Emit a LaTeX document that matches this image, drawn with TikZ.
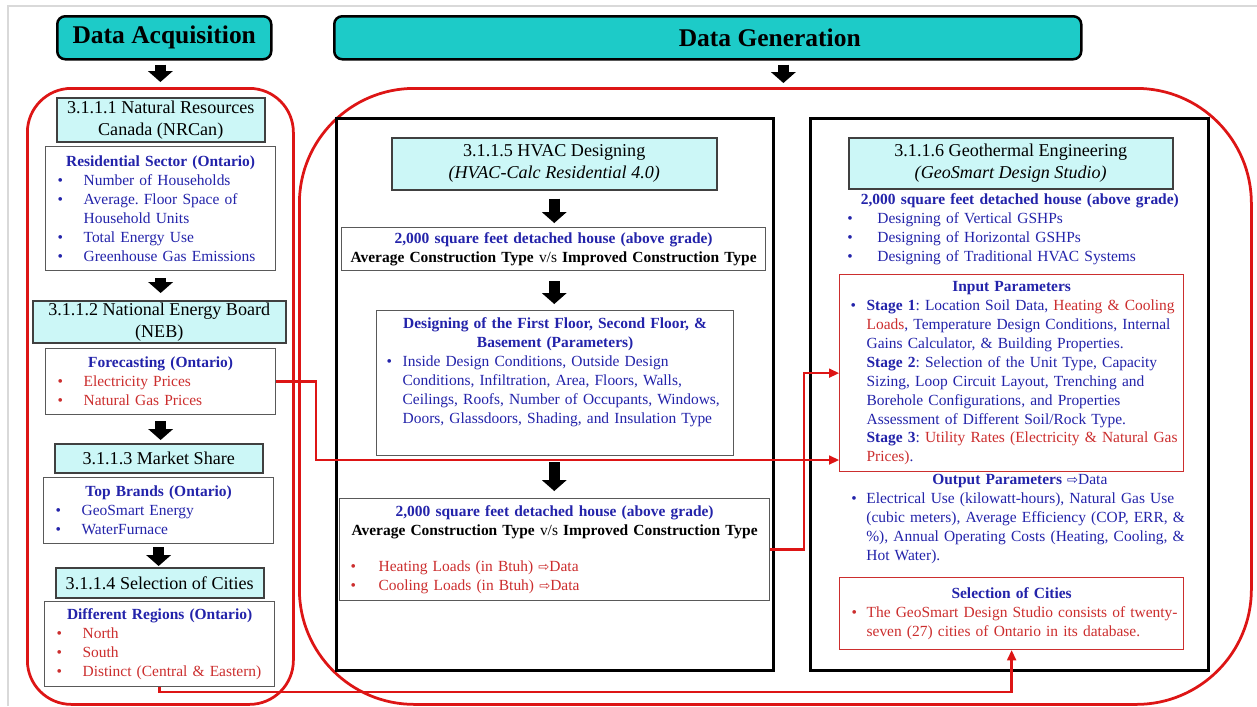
\documentclass[tikz,border=0pt]{standalone}
\usepackage{fontspec}
\setmainfont{Liberation Serif}
\newfontfamily\arrowfont{DejaVu Sans}
\usetikzlibrary{arrows.meta,calc}

\definecolor{hdrteal}{HTML}{1DCBC8}
\definecolor{titlecyan}{HTML}{CCF7F7}
\definecolor{txtblue}{HTML}{2323AA}
\definecolor{txtred}{HTML}{CC2E2E}
\definecolor{linkred}{HTML}{DD1515}

% bullet geometry, reset inside a node where needed
\newdimen\bulletoff \bulletoff=2.2mm
\newdimen\bulletgap \bulletgap=5.2mm
\newcommand{\bitem}[2][txtblue]{\par\hangindent=\dimexpr\bulletoff+\bulletgap\relax\hangafter=1
  \noindent{\color{#1}\hspace*{\bulletoff}\makebox[\bulletgap][l]{\textbullet}#2}\par}
\newcommand{\boxhead}[2][txtblue]{{\centering\noindent\color{#1}\bfseries #2\par}}
\newcommand{\toData}{{\arrowfont\fontsize{7.5}{10.8}\selectfont\char"21E8}}

\tikzset{
    main header/.style={draw=black, line width=0.5mm, fill=hdrteal, rounded corners=1.6mm,
        anchor=north west, inner sep=0pt, font=\fontsize{14.5}{17}\selectfont\bfseries},
    stage frame/.style={draw=linkred, line width=0.55mm, anchor=north west, inner sep=0pt},
    panel/.style={draw=black, line width=0.55mm, anchor=north west, inner sep=0pt},
    stage title/.style={draw=black!75, line width=0.3mm, fill=titlecyan, anchor=north west,
        inner sep=0pt, align=center, font=\fontsize{10.3}{12.5}\selectfont},
    info box/.style={draw=black!65, line width=0.25mm, fill=white, anchor=north west,
        inner xsep=0.2mm, inner ysep=0pt, align=left, text=txtblue,
        font=\fontsize{8.8}{10.8}\selectfont},
    red box/.style={info box, draw=txtred},
    info text/.style={anchor=north west, inner sep=0pt, align=left, text=txtblue,
        font=\fontsize{8.8}{10.8}\selectfont},
    block arrow/.style={line width=2.2mm, -{Triangle[width=5mm,length=2.2mm,line width=0pt]}},
    data link/.style={draw=linkred, line width=0.5mm,
        -{Triangle[width=1.9mm,length=2mm,line width=0pt]}}
}

\begin{document}
\frenchspacing
\begin{tikzpicture}[x=0.2mm, y=-0.2mm]
\useasboundingbox (0,0) rectangle (1257,706);
\draw[black!15, line width=0.3mm] (8,706) -- (8,6) -- (1257,6);

% headers and frames
\node[main header, minimum width=42.8mm, minimum height=8.6mm] (hdrAcq) at (56,15) {Data Acquisition};
\node[main header, minimum width=149.4mm, minimum height=8.6mm] (hdrGen) at (333,15) {\hspace*{24.8mm}Data Generation};
\node[stage frame, rounded corners=8.8mm, minimum width=53.2mm, minimum height=123.2mm] (acqFrame) at (26,87) {};
\node[stage frame, rounded corners=23mm, minimum width=190.4mm, minimum height=123.2mm] (genFrame) at (298,87) {};
\node[panel, minimum width=87.4mm, minimum height=110.4mm] (hvacPanel) at (335,117) {};
\node[panel, minimum width=79.6mm, minimum height=110.4mm] (geoPanel) at (809,117) {};

% data acquisition column
\node[stage title, minimum width=41.6mm, minimum height=8.8mm] (nrcan) at (56,97) {3.1.1.1 Natural Resources\\Canada (NRCan)};
\node[info box, text width=45.6mm, minimum height=24.8mm] (resid) at (45,146) {%
  \boxhead{Residential Sector (Ontario)}
  \bitem{Number of Households}
  \bitem{Average. Floor Space of\newline Household Units}
  \bitem{Total Energy Use}
  \bitem{Greenhouse Gas Emissions}};
\node[stage title, minimum width=50.6mm, minimum height=8.4mm] (neb) at (32,300) {3.1.1.2 National Energy Board\\(NEB)};
\node[info box, text width=45.6mm, minimum height=13.2mm] (fcast) at (45,348) {%
  \boxhead{Forecasting (Ontario)}
  \bitem[txtred]{Electricity Prices}
  \bitem[txtred]{Natural Gas Prices}};
\node[stage title, minimum width=41.6mm, minimum height=5.8mm] (mkt) at (54,443) {3.1.1.3 Market Share};
\node[info box, text width=45.6mm, minimum height=13.2mm] (brands) at (43,477) {%
  \boxhead{Top Brands (Ontario)}
  \bitem{GeoSmart Energy}
  \bitem{WaterFurnace}};
\node[stage title, minimum width=41.6mm, minimum height=6mm] (cities) at (55,567) {3.1.1.4 Selection of Cities};
\node[info box, text width=45.6mm, minimum height=17mm] (regions) at (44,601) {%
  \boxhead{Different Regions (Ontario)}
  \bitem[txtred]{North}
  \bitem[txtred]{South}
  \bitem[txtred]{Distinct (Central \& Eastern)}};

% HVAC designing panel
\node[stage title, minimum width=65mm, minimum height=10.4mm] (hvacTitle) at (391,137) {3.1.1.5 HVAC Designing\\\textit{(HVAC-Calc Residential 4.0)}};
\node[info box, text width=84.4mm, minimum height=8.6mm] (house1) at (341,227) {%
  \boxhead{2,000 square feet detached house (above grade)}
  \boxhead[black]{Average Construction Type \textmd{v/s} Improved Construction Type}};
\node[info box, text width=71mm, minimum height=29mm] (floors) at (376,310) {%
  \bulletoff=1.8mm \bulletgap=3.2mm
  \boxhead{Designing of the First Floor, Second Floor, \&\\Basement (Parameters)}
  \bitem{Inside Design Conditions, Outside Design\newline Conditions, Infiltration, Area, Floors, Walls,\newline
    Ceilings, Roofs, Number of Occupants, Windows,\newline Doors, Glassdoors, Shading, and Insulation Type}
  \vspace*{4.4mm}};
\node[info box, text width=85.6mm, minimum height=20.4mm] (house2) at (339,498) {%
  \bulletoff=2mm \bulletgap=5.6mm
  \boxhead{2,000 square feet detached house (above grade)}
  \boxhead[black]{Average Construction Type \textmd{v/s} Improved Construction Type}
  \vspace{3.4mm}
  \bitem[txtred]{Heating Loads (in Btuh) \toData Data}
  \bitem[txtred]{Cooling Loads (in Btuh) \toData Data}};

% geothermal engineering panel
\node[stage title, minimum width=64.8mm, minimum height=10.2mm] (geoTitle) at (848,137) {3.1.1.6 Geothermal Engineering\\\textit{(GeoSmart Design Studio)}};
\node[info text, text width=71mm] (geoSpec) at (842,193) {%
  \bulletoff=1mm \bulletgap=6mm
  \boxhead{2,000 square feet detached house (above grade)}
  \bitem{Designing of Vertical GSHPs}
  \bitem{Designing of Horizontal GSHPs}
  \bitem{Designing of Traditional HVAC Systems}};
\node[red box, text width=68.4mm, minimum height=39.4mm] (inputBox) at (839,274) {%
  \bulletoff=2mm \bulletgap=3.2mm
  \boxhead{Input Parameters}
  \bitem{\textbf{Stage 1}: Location Soil Data, {\color{txtred}Heating \& Cooling\newline Loads}, Temperature Design Conditions, Internal\newline
    Gains Calculator, \& Building Properties.\newline
    \textbf{Stage 2}: Selection of the Unit Type, Capacity\newline Sizing, Loop Circuit Layout, Trenching and\newline
    Borehole Configurations, and Properties\newline Assessment of Different Soil/Rock Type.\newline
    \textbf{Stage 3}: {\color{txtred}Utility Rates (Electricity \& Natural Gas\newline Prices)}.}};
\node[info text, text width=71mm] (outText) at (842,474) {%
  \bulletoff=1.8mm \bulletgap=3mm
  \boxhead{Output Parameters \textmd{\toData Data}}
  \bitem{Electrical Use (kilowatt-hours), Natural Gas Use\newline (cubic meters), Average Efficiency (COP, ERR, \&\newline
    \%), Annual Operating Costs (Heating, Cooling, \&\newline Hot Water).}};
\node[red box, text width=68.4mm, minimum height=14.4mm] (citiesBox) at (839,577) {%
  \bulletoff=2.2mm \bulletgap=3mm
  \boxhead{Selection of Cities}
  \bitem[txtred]{The GeoSmart Design Studio consists of twenty-\newline seven (27) cities of Ontario in its database.}};

% block arrows
\coordinate (genDrop) at ([xshift=1.6mm]genFrame.north);
\draw[block arrow, shorten <=0.8mm, shorten >=1mm] (acqFrame.north |- hdrAcq.south) -- (acqFrame.north);
\draw[block arrow, shorten <=0.8mm, shorten >=0.8mm] (genDrop |- hdrGen.south) -- (genDrop);
\draw[block arrow, shorten <=1.4mm, shorten >=1.4mm] (resid.south) -- (resid.south |- neb.north);
\draw[block arrow, shorten <=1.2mm, shorten >=0.6mm] (fcast.south) -- (fcast.south |- mkt.north);
\draw[block arrow, shorten <=0.6mm, shorten >=0.2mm] (brands.south) -- (brands.south |- cities.north);
\draw[block arrow, shorten <=1.6mm, shorten >=0.8mm] (hvacTitle.south) -- (hvacTitle.south |- house1.north);
\draw[block arrow, shorten <=2mm, shorten >=1.2mm] (house1.south -| hvacTitle.south) -- (hvacTitle.south |- floors.north);
\draw[block arrow, shorten <=1.2mm, shorten >=1.4mm] (floors.south -| hvacTitle.south) -- (hvacTitle.south |- house2.north);

% data links
\coordinate (busA) at (316,460);
\coordinate (busB) at (804,0);
\coordinate (busC) at (0,692);
\draw[data link] (fcast.east) -| (busA) -- (busA -| inputBox.west);
\draw[data link] (house2.east) -| (busB |- inputBox.west) -- (inputBox.west);
\draw[data link] (regions.south) |- (busC -| citiesBox.south) -- (citiesBox.south);
\end{tikzpicture}
\end{document}
